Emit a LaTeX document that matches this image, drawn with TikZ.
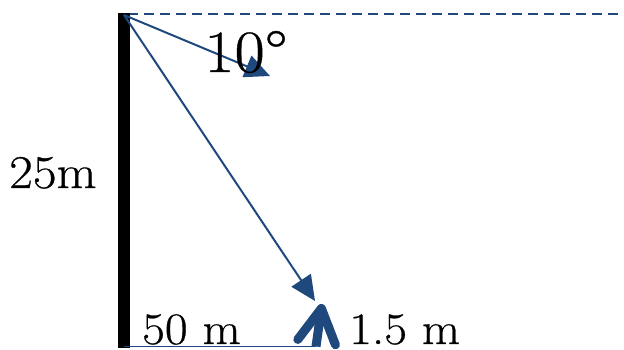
\documentclass[tikz,border=0pt]{standalone}
\usepackage{fontspec}
\setmainfont{Latin Modern Roman}[FakeStretch=1.1,FakeBold=0.6]
\usetikzlibrary{arrows.meta}
\definecolor{arrowblue}{HTML}{1F497D}
\begin{document}
\begin{tikzpicture}[x=1pt,y=-1pt,
  bluearrow/.style={draw=arrowblue,line width=2pt,-{Triangle[length=25pt,width=23pt]}},
  thickarrow/.style={draw=arrowblue,line width=9pt,-{Straight Barb[length=34pt,width=38pt,round]}},
  lbl/.style={anchor=base west,inner sep=0pt,text=black},
  pole/.style={draw=black,line width=12pt}]
\useasboundingbox (0,0) rectangle (624,350);
% coordinates
\coordinate (top) at (124,15);
\coordinate (poletop) at (124,13);
\coordinate (polebot) at (124,348);
\coordinate (horizend) at (624,14);
\coordinate (shorttip) at (270,76);
\coordinate (longtip) at (315,301);
\coordinate (groundstart) at (124,346.5);
\coordinate (groundend) at (316,346.5);
\coordinate (uptip) at (322,304);
% dashed horizontal
\draw[arrowblue,line width=2.2pt,dash pattern=on 10pt off 6pt] (top) ++(4,-1) coordinate (dashstart) (dashstart) -- (horizend);
% pole
\draw[pole] (poletop) -- (polebot);
% ground line
\draw[arrowblue,line width=1.6pt] (groundstart) -- (groundend);
% arrows
\draw[bluearrow] (top) -- (shorttip);
\draw[bluearrow] (top) -- (longtip);
\draw[thickarrow] (groundend) -- (uptip);
% labels
\node[lbl,font=\fontsize{60}{60}\selectfont] (angle) at (204,72) {10°};
\node[lbl,font=\fontsize{47}{47}\selectfont] (height) at (9,188) {25m};
\node[lbl,font=\fontsize{45}{45}\selectfont] (dist) at (142,344) {50 m};
\node[lbl,font=\fontsize{45}{45}\selectfont] (eye) at (349,344) {1.5 m};
\end{tikzpicture}
\end{document}
